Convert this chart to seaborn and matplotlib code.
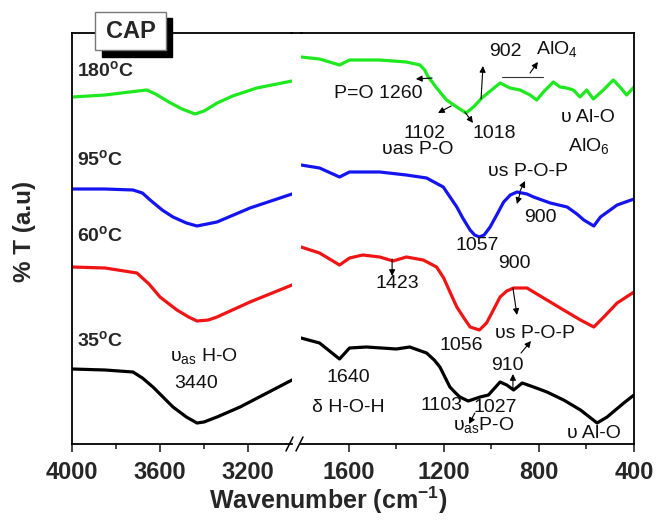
import numpy as np
import pandas as pd
import matplotlib
matplotlib.use("Agg")
import matplotlib.pyplot as plt
import seaborn as sns
from matplotlib.patches import Rectangle
from matplotlib.lines import Line2D

# ---------------- data ----------------
samples = ["180 °C", "95 °C", "60 °C", "35 °C"]
colors = ["#1ee81e", "#1414f0", "#f01414", "#000000"]

# left segment (4000-3000 cm-1)
wn_l_180 = [4000, 3850, 3700, 3660, 3620, 3560, 3500, 3440, 3400, 3340, 3270, 3160, 3000]
t_l_180 = [347, 349, 353, 354, 350, 342, 335, 330, 333, 341, 348, 356, 363]
wn_l_95 = [4000, 3850, 3723, 3680, 3645, 3590, 3541, 3480, 3432, 3341, 3191, 3000]
t_l_95 = [255, 255, 254, 251, 244, 234, 227, 221, 218, 222, 236, 250]
wn_l_60 = [4000, 3850, 3705, 3650, 3600, 3523, 3470, 3432, 3380, 3341, 3191, 3000]
t_l_60 = [177, 176, 171, 160, 147, 134, 127, 123, 124, 127, 142, 159]
wn_l_35 = [4000, 3850, 3723, 3680, 3632, 3541, 3480, 3432, 3400, 3341, 3236, 3000]
t_l_35 = [75, 74, 72, 66, 57, 37, 27, 21, 22, 27, 37, 64]

# right segment (1800-400 cm-1)
wn_r_180 = [1800, 1722, 1638, 1596, 1469, 1357, 1300, 1280, 1265, 1245, 1230, 1188, 1145, 1106,
            1075, 1040, 963, 921, 879, 837, 809, 781, 739, 711, 683, 655, 627, 599, 571, 529,
            487, 459, 431, 400]
t_r_180 = [387, 385, 379, 384, 384, 382, 379, 374, 367, 361, 356, 344, 337, 331,
           337, 346, 361, 356, 354, 349, 344, 352, 362, 357, 356, 354, 347, 354, 345, 354,
           364, 357, 349, 357]
wn_r_95 = [1800, 1722, 1638, 1596, 1469, 1357, 1272, 1202, 1145, 1120, 1089, 1070, 1050, 1030,
           1005, 975, 948, 920, 892, 850, 822, 752, 681, 640, 611, 569, 541, 471, 400]
t_r_95 = [279, 276, 267, 272, 272, 269, 266, 257, 237, 226, 214, 209, 207, 209,
          217, 230, 242, 249, 252, 250, 247, 241, 237, 230, 224, 218, 227, 239, 245]
wn_r_60 = [1800, 1722, 1638, 1596, 1540, 1469, 1413, 1357, 1286, 1230, 1200, 1170, 1145, 1115,
           1089, 1050, 1020, 1000, 963, 935, 906, 850, 766, 696, 625, 569, 527, 471, 400]
t_r_60 = [197, 191, 179, 186, 189, 187, 183, 187, 184, 177, 166, 150, 137, 126,
          117, 114, 121, 130, 147, 153, 156, 156, 144, 134, 124, 117, 127, 141, 152]
wn_r_35 = [1800, 1722, 1638, 1596, 1525, 1399, 1343, 1272, 1240, 1216, 1195, 1174, 1150, 1132,
           1097, 1047, 1012, 963, 935, 906, 870, 822, 766, 696, 625, 555, 513, 443, 400]
t_r_35 = [106, 101, 85, 96, 97, 95, 97, 91, 84, 77, 67, 57, 51, 47,
          43, 47, 49, 62, 59, 54, 61, 57, 52, 44, 34, 21, 27, 41, 49]

def frame(pairs):
    rows = []
    for name, wn, t in pairs:
        rows.append(pd.DataFrame({"wn": wn, "T": t, "sample": name}))
    return pd.concat(rows, ignore_index=True)

df_left = frame([(samples[0], wn_l_180, t_l_180), (samples[1], wn_l_95, t_l_95),
                 (samples[2], wn_l_60, t_l_60), (samples[3], wn_l_35, t_l_35)])
df_right = frame([(samples[0], wn_r_180, t_r_180), (samples[1], wn_r_95, t_r_95),
                  (samples[2], wn_r_60, t_r_60), (samples[3], wn_r_35, t_r_35)])

# ---------------- style ----------------
sns.set_theme(style="white")
plt.rcParams["font.family"] = ["Liberation Sans", "DejaVu Sans"]
plt.rcParams["mathtext.fontset"] = "custom"
plt.rcParams["mathtext.rm"] = "Liberation Sans"
plt.rcParams["mathtext.it"] = "Liberation Sans:italic"
plt.rcParams["mathtext.bf"] = "Liberation Sans:bold"
plt.rcParams["lines.solid_joinstyle"] = "round"
plt.rcParams["lines.solid_capstyle"] = "round"

W, H = 656, 524
fig = plt.figure(figsize=(W / 100, H / 100), dpi=100)

def fx(x):
    return x / W

def fy(y):
    return 1 - y / H

ax_l = fig.add_axes([fx(72), fy(444), fx(292) - fx(72), fy(33) - fy(444)])
ax_r = fig.add_axes([fx(301), fy(444), fx(634) - fx(301), fy(33) - fy(444)])

palette = dict(zip(samples, colors))
for ax, df in ((ax_l, df_left), (ax_r, df_right)):
    sns.lineplot(data=df, x="wn", y="T", hue="sample", palette=palette, estimator=None,
                 sort=True, linewidth=2.3, legend=False, ax=ax)
    ax.set_ylim(0, 411)
    ax.set_yticks([])
    ax.set_xlabel("")
    ax.set_ylabel("")
    for s in ax.spines.values():
        s.set_linewidth(1.3)
        s.set_color("black")
    ax.tick_params(axis="x", which="major", direction="out", length=5.5, width=1.2,
                   bottom=True, top=False, pad=7, labelsize=17)
    ax.tick_params(axis="x", which="minor", direction="out", length=3.5, width=1.2,
                   bottom=True, top=False)
    ax.patch.set_alpha(0)

ax_l.set_xlim(4000, 3000)
ax_l.set_xticks([4000, 3600, 3200])
ax_l.set_xticks([3800, 3400], minor=True)
ax_l.spines["right"].set_visible(False)

ax_r.set_xlim(1800, 400)
ax_r.set_xticks([1600, 1200, 800, 400])
ax_r.set_xticks([1400, 1000, 600], minor=True)
ax_r.spines["left"].set_visible(False)

for ax in (ax_l, ax_r):
    for lab in ax.get_xticklabels():
        lab.set_fontweight("bold")

# top line across the break and break marks
fig.add_artist(Line2D([fx(291), fx(302)], [fy(33), fy(33)], color="black", lw=1.3))
for x0 in (286, 296):
    fig.add_artist(Line2D([fx(x0), fx(x0 + 7)], [fy(451), fy(437)], color="black", lw=1.1))

# axis labels
fig.text(fx(328), fy(500), r"Wavenumber (cm$^{\mathbf{-1}}$)", ha="center", va="center",
         fontsize=18, fontweight="bold")
fig.text(fx(24), fy(231), "% T (a.u)", ha="center", va="center", rotation=90,
         fontsize=17.5, fontweight="bold")

# CAP box with shadow
fig.add_artist(Rectangle((fx(102), fy(57)), fx(172) - fx(102), fy(18) - fy(57),
                         facecolor="black", edgecolor="black", zorder=5))
fig.add_artist(Rectangle((fx(95), fy(50)), fx(166) - fx(95), fy(12) - fy(50),
                         facecolor="white", edgecolor="#777777", lw=1.0, zorder=6))
fig.text(fx(130.5), fy(31), "CAP", ha="center", va="center", fontsize=17,
         fontweight="bold", zorder=7)

# temperature labels
for label, y in (("180", 70), ("95", 159), ("60", 235), ("35", 340)):
    fig.text(fx(77), fy(y), label + r"$^{\mathbf{o}}$C", ha="left", va="center",
             fontsize=14, fontweight="bold")

# band annotations (data coords on each axis)
txt_r = [
    ("P=O 1260", 1476, 350), ("1102", 1279, 311), ("υas P-O", 1308, 295),
    ("1018", 989, 311), ("902", 942, 393), (r"AlO$_{4}$", 724, 395),
    ("υ Al-O", 594, 326), (r"AlO$_{6}$", 589, 298),
    ("υs P-O-P", 846, 272), ("900", 795, 226), ("1057", 1060, 198),
    ("900", 905, 181), ("1423", 1396, 160), ("1056", 1127, 99),
    ("υs P-O-P", 816, 110), ("910", 934, 78), ("1640", 1602, 66),
    ("δ H-O-H", 1602, 36), ("1103", 1211, 38), ("1027", 984, 36),
    (r"υ$_{\mathrm{as}}$P-O", 1031, 19), ("υ Al-O", 568, 10),
]
for s, x, y in txt_r:
    ax_r.text(x, y, s, ha="center", va="center", fontsize=14, color="#111111")

txt_l = [(r"υ$_{\mathrm{as}}$ H-O", 3400, 88), ("3440", 3436, 60)]
for s, x, y in txt_l:
    ax_l.text(x, y, s, ha="center", va="center", fontsize=14, color="#111111")

arrows = [
    ((1249, 366), (1317, 365)), ((1169, 338), (1224, 331)), ((1111, 332), (1077, 321)),
    ((1043, 345), (1035, 378)), ((837, 371), (804, 382)),
    ((879, 253), (858, 263)), ((879, 251), (892, 240)),
    ((1417, 185), (1417, 168)), ((909, 156), (892, 129)),
    ((909, 54), (909, 70)), ((875, 91), (833, 103)), ((1069, 31), (1094, 20)),
]
for tail, head in arrows:
    ax_r.annotate("", xy=head, xytext=tail,
                  arrowprops=dict(arrowstyle="-|>", lw=0.8, color="black",
                                  mutation_scale=9, shrinkA=0, shrinkB=0))
ax_r.plot([955, 783], [367, 367], color="#333333", lw=0.8)

fig.savefig("out.png", dpi=100)
